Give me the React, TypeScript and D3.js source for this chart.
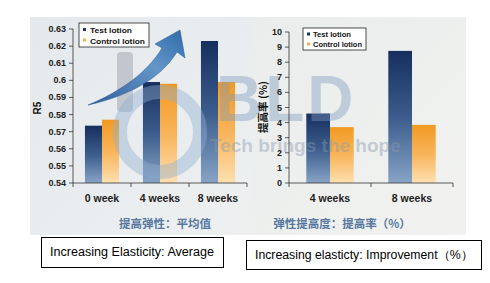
import React from "react";
import * as d3 from "d3";

const weeksLeft = ["0 week", "4 weeks", "8 weeks"];
const testAvg = [0.5735, 0.599, 0.623];
const controlAvg = [0.577, 0.598, 0.599];
const leftTicks = [0.54, 0.55, 0.56, 0.57, 0.58, 0.59, 0.6, 0.61, 0.62, 0.63];

const weeksRight = ["4 weeks", "8 weeks"];
const testImp = [4.6, 8.75];
const controlImp = [3.7, 3.85];
const rightTicks = [0, 1, 2, 3, 4, 5, 6, 7, 8, 9, 10];

const seriesNames = ["Test  lotion", "Control  lotion"];

const W = 490, H = 283;
const bold = "'Liberation Sans', Arial, sans-serif";
const cjk = "'Noto Sans CJK SC', sans-serif";

export default function App() {
  const xL = d3.scaleBand<string>().domain(weeksLeft).range([73, 247]).padding(0);
  const xL1 = d3.scaleBand<string>().domain(["t", "c"]).range([0, xL.bandwidth()]).paddingInner(0).paddingOuter(0.7);
  const yL = d3.scaleLinear().domain([0.54, 0.63]).range([183, 29]);

  const xR = d3.scaleBand<string>().domain(weeksRight).range([289, 453]).padding(0);
  const xR1 = d3.scaleBand<string>().domain(["t", "c"]).range([0, xR.bandwidth()]).paddingInner(0).paddingOuter(0.73);
  const yR = d3.scaleLinear().domain([0, 10]).range([183, 32]);

  const leftTickX = [73, ...weeksLeft.map((w) => (xL(w) as number) + xL.bandwidth())];
  const rightTickX = [289, ...weeksRight.map((w) => (xR(w) as number) + xR.bandwidth())];

  return (
    <svg width={W} height={H} style={{ position: "absolute", left: 0, top: 0, background: "#fff" }}>
      <defs>
        <linearGradient id="gTest" x1="0" y1="0" x2="0" y2="1">
          <stop offset="0" stopColor="#162f5e" />
          <stop offset="0.5" stopColor="#3b5c8c" />
          <stop offset="1" stopColor="#87a4c6" />
        </linearGradient>
        <linearGradient id="gCtrl" x1="0" y1="0" x2="0" y2="1">
          <stop offset="0" stopColor="#f29a22" />
          <stop offset="0.5" stopColor="#f8b45a" />
          <stop offset="1" stopColor="#fde0b0" />
        </linearGradient>
        <linearGradient id="bgL" x1="0" y1="0" x2="1" y2="1">
          <stop offset="0" stopColor="#e4e9ed" />
          <stop offset="1" stopColor="#eef0f0" />
        </linearGradient>
        <linearGradient id="bgR" x1="0" y1="0" x2="1" y2="1">
          <stop offset="0" stopColor="#eaedec" />
          <stop offset="1" stopColor="#f1f2f0" />
        </linearGradient>
        <linearGradient id="gArrow" x1="0" y1="1" x2="1" y2="0">
          <stop offset="0" stopColor="#2f5f9a" />
          <stop offset="0.6" stopColor="#6496c9" />
          <stop offset="1" stopColor="#2d6aa8" />
        </linearGradient>
      </defs>

      {/* panel backgrounds */}
      <rect x={30} y={17} width={222} height={218} fill="url(#bgL)" />
      <rect x={252} y={17} width={214} height={218} fill="url(#bgR)" />

      {/* watermark (behind) */}
      <rect x={117} y={52} width={16} height={60} fill="#c2c7cd" rx={4} />

      {/* left bars */}
      {weeksLeft.map((w, i) => (
        <g key={w}>
          <rect x={(xL(w) as number) + (xL1("t") as number)} y={yL(testAvg[i])} width={xL1.bandwidth()} height={183 - yL(testAvg[i])} fill="url(#gTest)" />
          <rect x={(xL(w) as number) + (xL1("c") as number)} y={yL(controlAvg[i])} width={xL1.bandwidth()} height={183 - yL(controlAvg[i])} fill="url(#gCtrl)" />
        </g>
      ))}

      {/* right bars */}
      {weeksRight.map((w, i) => (
        <g key={w}>
          <rect x={(xR(w) as number) + (xR1("t") as number)} y={yR(testImp[i])} width={xR1.bandwidth()} height={183 - yR(testImp[i])} fill="url(#gTest)" />
          <rect x={(xR(w) as number) + (xR1("c") as number)} y={yR(controlImp[i])} width={xR1.bandwidth()} height={183 - yR(controlImp[i])} fill="url(#gCtrl)" />
        </g>
      ))}

      {/* watermark (overlay) */}
      <g opacity={0.42}>
        <circle cx={160} cy={132} r={40} fill="none" stroke="#8fb0d2" strokeWidth={14} />
        <text x={216} y={121} fontFamily={bold} fontWeight="bold" fontSize={64} fill="#7f9cbf" letterSpacing={3}>BLD</text>
        <text x={210} y={152} fontFamily={bold} fontWeight="bold" fontSize={19} fill="#8a9aab">Tech brings the hope</text>
      </g>

      {/* left axes */}
      <line x1={73} y1={yL(0.63)} x2={73} y2={183} stroke="#333" strokeWidth={0.8} />
      <line x1={73} y1={183} x2={247} y2={183} stroke="#333" strokeWidth={0.8} />
      {leftTicks.map((t) => (
        <g key={t}>
          <line x1={69} x2={73} y1={yL(t)} y2={yL(t)} stroke="#333" strokeWidth={0.8} />
          <text x={66} y={yL(t) + 3} textAnchor="end" fontFamily={bold} fontWeight="bold" fontSize={9} fill="#222">{d3.format("")(t)}</text>
        </g>
      ))}
      {leftTickX.map((x, i) => (
        <line key={i} x1={x} x2={x} y1={183} y2={187} stroke="#333" strokeWidth={0.8} />
      ))}
      {weeksLeft.map((w) => (
        <text key={w} x={(xL(w) as number) + xL.bandwidth() / 2} y={202} textAnchor="middle" fontFamily={bold} fontWeight="bold" fontSize={10.5} fill="#222">{w}</text>
      ))}
      <text transform="translate(41,108) rotate(-90)" textAnchor="middle" fontFamily={bold} fontWeight="bold" fontSize={10} fill="#111">R5</text>

      {/* arrow */}
      <path d="M88,105 C120,92 148,72 162,48 L155,44 L180,30 L185,58 L177,52 C160,80 125,97 88,105 Z" fill="url(#gArrow)" stroke="#2a5a90" strokeWidth={0.5} />

      {/* left legend */}
      <rect x={79} y={23} width={70} height={24} fill="#fff" stroke="#222" strokeWidth={0.8} />
      <rect x={83} y={28} width={3} height={3} fill="#1a3566" />
      <text x={90} y={32.5} fontFamily={bold} fontWeight="bold" fontSize={7.5} fill="#111" textLength={42} lengthAdjust="spacingAndGlyphs">{seriesNames[0]}</text>
      <rect x={83} y={38.5} width={3} height={3} fill="#f6b04a" />
      <text x={90} y={43.5} fontFamily={bold} fontWeight="bold" fontSize={7.5} fill="#111" textLength={55} lengthAdjust="spacingAndGlyphs">{seriesNames[1]}</text>

      {/* right axes */}
      <line x1={289} y1={yR(10)} x2={289} y2={183} stroke="#333" strokeWidth={0.8} />
      <line x1={289} y1={183} x2={453} y2={183} stroke="#333" strokeWidth={0.8} />
      {rightTicks.map((t) => (
        <g key={t}>
          <line x1={285} x2={289} y1={yR(t)} y2={yR(t)} stroke="#333" strokeWidth={0.8} />
          <text x={282} y={yR(t) + 3} textAnchor="end" fontFamily={bold} fontWeight="bold" fontSize={9} fill="#222">{t}</text>
        </g>
      ))}
      {rightTickX.map((x, i) => (
        <line key={i} x1={x} x2={x} y1={183} y2={187} stroke="#333" strokeWidth={0.8} />
      ))}
      {weeksRight.map((w) => (
        <text key={w} x={(xR(w) as number) + xR.bandwidth() / 2} y={202} textAnchor="middle" fontFamily={bold} fontWeight="bold" fontSize={10.5} fill="#222">{w}</text>
      ))}
      <text transform="translate(267,107) rotate(-90)" textAnchor="middle" fontFamily={cjk} fontWeight="bold" fontSize={10.5} fill="#111">提高率 (%)</text>

      {/* right legend */}
      <rect x={303} y={28} width={63} height={22} fill="#fff" stroke="#222" strokeWidth={0.8} />
      <rect x={307} y={32.5} width={3} height={3} fill="#1a3566" />
      <text x={313} y={37} fontFamily={bold} fontWeight="bold" fontSize={7} fill="#111" textLength={38} lengthAdjust="spacingAndGlyphs">{seriesNames[0]}</text>
      <rect x={307} y={42.5} width={3} height={3} fill="#f6b04a" />
      <text x={313} y={47} fontFamily={bold} fontWeight="bold" fontSize={7} fill="#111" textLength={49} lengthAdjust="spacingAndGlyphs">{seriesNames[1]}</text>

      {/* chinese captions */}
      <text x={165} y={228} textAnchor="middle" fontFamily={cjk} fontWeight="bold" fontSize={11.5} fill="#56789f">提高弹性：平均值</text>
      <text x={342} y={228} textAnchor="middle" fontFamily={cjk} fontWeight="bold" fontSize={11.5} fill="#56789f">弹性提高度：提高率（%）</text>

      {/* english boxes */}
      <rect x={41.5} y={237.5} width={182} height={30} fill="#fff" stroke="#000" strokeWidth={1} />
      <text x={50} y={256} fontFamily={bold} fontSize={12} fill="#000" textLength={164} lengthAdjust="spacingAndGlyphs">Increasing Elasticity: Average</text>
      <rect x={246.5} y={240.5} width={235} height={29} fill="#fff" stroke="#000" strokeWidth={1} />
      <text x={255} y={259} fontFamily={bold} fontSize={12} fill="#000" textLength={218} lengthAdjust="spacingAndGlyphs">Increasing elasticty: Improvement（%）</text>
    </svg>
  );
}
